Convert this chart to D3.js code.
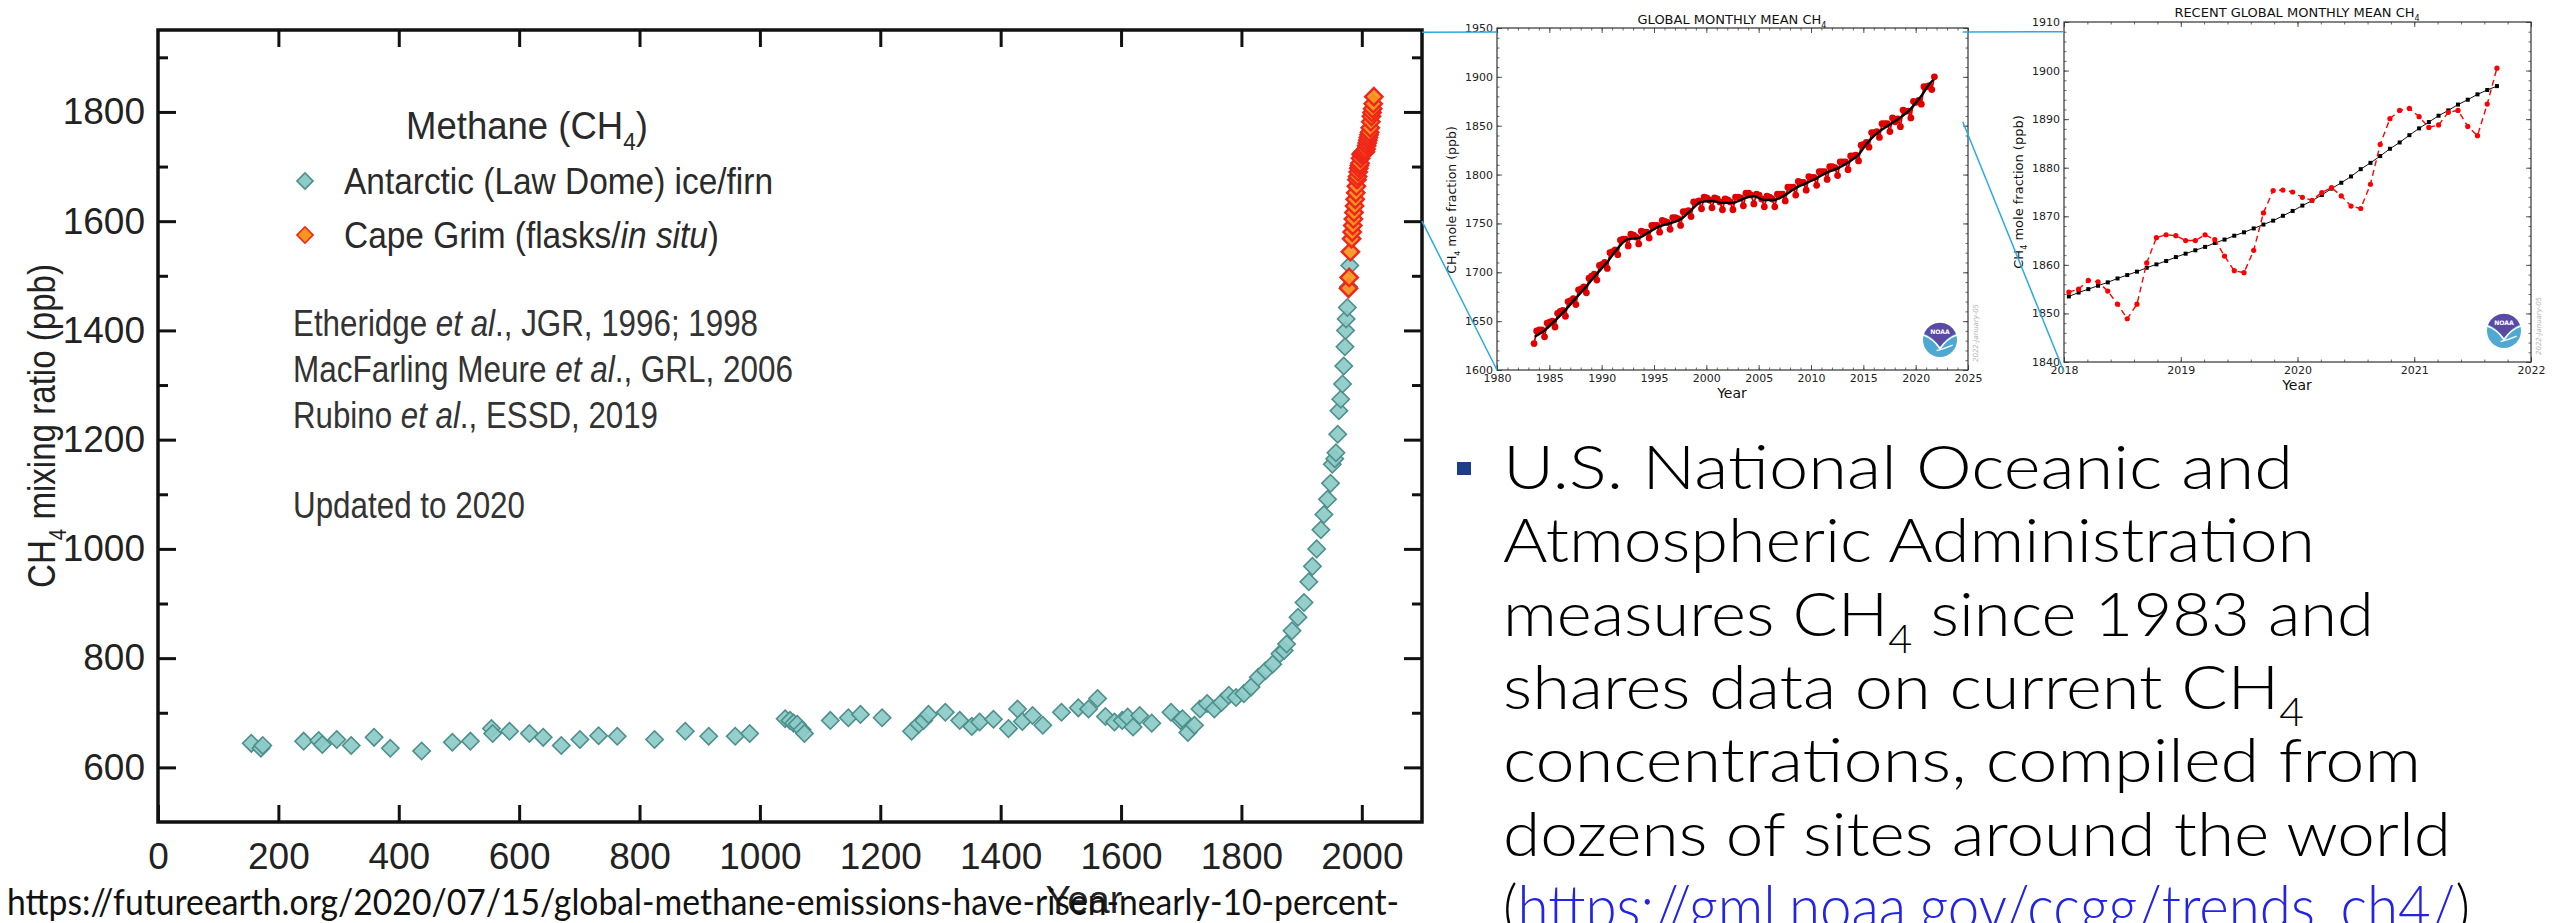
<!DOCTYPE html>
<html>
<head>
<meta charset="utf-8">
<script src="https://cdn.jsdelivr.net/npm/d3@7"></script>
<style>
  body { margin: 0; background: #fff; }
  svg { display: block; }
</style>
</head>
<body>
<svg id="chart"></svg>
<script>
//Canvas size
const width = 2552;
const height = 923;

//Main chart data: Law Dome ice/firn (year, ppb)
const lawDomeYears = [155, 171, 174, 242, 267, 273, 297, 321, 359, 386, 438, 489, 519, 554, 556, 584, 617, 640, 670, 701,
  732, 763, 825, 876, 915, 959, 983, 1042, 1050, 1056, 1062, 1070, 1074, 1117, 1147, 1167, 1203, 1252, 1264, 1272,
  1280, 1308, 1332, 1352, 1365, 1388, 1413, 1428, 1436, 1453, 1470, 1501, 1529, 1546, 1561, 1574, 1589, 1602, 1611, 1620,
  1631, 1651, 1683, 1699, 1702, 1711, 1722, 1731, 1743, 1755, 1767, 1779, 1791, 1804, 1816, 1828, 1840, 1852, 1864, 1871,
  1875, 1884, 1894, 1904, 1912, 1918, 1925, 1932, 1937, 1943, 1948, 1951, 1955, 1957, 1960, 1962, 1965, 1968, 1970, 1972,
  1973, 1974, 1976, 1978, 1980];
const lawDomeCH4 = [644, 635, 640, 648, 649, 642, 651, 640, 655, 635, 630, 646, 648, 671, 662, 666, 662, 655, 640, 651,
  658, 657, 651, 666, 657, 657, 662, 689, 686, 681, 679, 669, 662, 686, 691, 697, 691, 666, 679, 686,
  697, 701, 686, 675, 683, 688, 671, 707, 684, 695, 677, 701, 709, 707, 726, 693, 683, 686, 692, 674,
  695, 681, 701, 686, 689, 664, 677, 707, 717, 707, 719, 732, 728, 735, 747, 765, 777, 789, 808, 814,
  826, 850, 875, 902, 940, 968, 1000, 1035, 1063, 1091, 1120, 1155, 1165, 1176, 1210, 1253, 1274, 1302, 1335, 1370,
  1400, 1421, 1442, 1480, 1519];

//Main chart data: Cape Grim flasks / in situ
const capeGrimYears = [1978, 1979, 1981, 1983, 1984, 1985, 1986, 1987, 1988, 1989, 1990, 1991, 1992, 1993, 1994,
  1995, 1996, 1997, 1998, 1999, 2000, 2001, 2002, 2003, 2004, 2005, 2006, 2007, 2008, 2009, 2010, 2011, 2012,
  2013, 2014, 2015, 2016, 2017, 2018, 2019, 2020];
const capeGrimCH4 = [1477, 1497, 1544, 1568, 1580, 1592, 1604, 1616, 1628, 1640, 1652, 1664, 1676, 1682, 1690,
  1697, 1702, 1706, 1715, 1722, 1724, 1724, 1725, 1727, 1728, 1727, 1727, 1732, 1738, 1743, 1748, 1753, 1758,
  1763, 1771, 1782, 1792, 1799, 1806, 1815, 1828];

//Main chart ticks
const mainYearTicks = [0, 200, 400, 600, 800, 1000, 1200, 1400, 1600, 1800, 2000];
const mainCH4Ticks = [600, 800, 1000, 1200, 1400, 1600, 1800];
const mainCH4Minor = [700, 900, 1100, 1300, 1500, 1700, 1900];

//Global monthly mean inset: values sampled Jan / Apr / Jul / Oct
const globalYears = [1983, 1984, 1985, 1986, 1987, 1988, 1989, 1990, 1991, 1992, 1993, 1994, 1995, 1996, 1997,
  1998, 1999, 2000, 2001, 2002, 2003, 2004, 2005, 2006, 2007, 2008, 2009, 2010, 2011, 2012, 2013, 2014,
  2015, 2016, 2017, 2018, 2019, 2020, 2021];
const quarterOffsets = [0.04, 0.29, 0.54, 0.79];
const globalQuarterly = [
  [null, null, 1627, 1640], [1641, 1641, 1634, 1648], [1649, 1650, 1644, 1658], [1660, 1661, 1655, 1670],
  [1671, 1673, 1667, 1682], [1683, 1685, 1679, 1694], [1696, 1698, 1692, 1707], [1708, 1710, 1704, 1720],
  [1721, 1723, 1718, 1733], [1734, 1734, 1727, 1739], [1738, 1736, 1729, 1742], [1741, 1741, 1735, 1748],
  [1748, 1748, 1741, 1753], [1752, 1751, 1744, 1756], [1756, 1755, 1748, 1762], [1762, 1763, 1757, 1772],
  [1772, 1773, 1765, 1777], [1776, 1774, 1766, 1776], [1775, 1772, 1764, 1775], [1774, 1772, 1764, 1777],
  [1777, 1776, 1768, 1781], [1781, 1779, 1770, 1780], [1779, 1775, 1767, 1778], [1777, 1775, 1767, 1780],
  [1780, 1780, 1773, 1787], [1787, 1787, 1779, 1793], [1792, 1792, 1784, 1798], [1797, 1797, 1789, 1803],
  [1803, 1803, 1795, 1808], [1808, 1807, 1799, 1813], [1813, 1813, 1805, 1819], [1819, 1820, 1814, 1830],
  [1831, 1833, 1828, 1843], [1843, 1844, 1838, 1852], [1852, 1852, 1844, 1858], [1854, 1857, 1849, 1866],
  [1865, 1865, 1858, 1875], [1874, 1876, 1872, 1890], [1890, 1891, 1887, 1900]
];
const globalTrendYears = [1983.6, 1984.5, 1985.5, 1986.5, 1987.5, 1988.5, 1989.5, 1990.5, 1991.5, 1992.5,
  1993.5, 1994.5, 1995.5, 1996.5, 1997.5, 1998.5, 1999.5, 2000.5, 2001.5, 2002.5, 2003.5, 2004.5, 2005.5,
  2006.5, 2007.5, 2008.5, 2009.5, 2010.5, 2011.5, 2012.5, 2013.5, 2014.5, 2015.5, 2016.5, 2017.5, 2018.5,
  2019.5, 2020.5, 2021.5, 2021.7];
const globalTrendCH4 = [1634, 1640, 1650, 1661, 1673, 1685, 1698, 1710, 1724, 1734,
  1735, 1741, 1747, 1750, 1754, 1763, 1772, 1773, 1771, 1771, 1775, 1778, 1774,
  1774, 1779, 1786, 1791, 1796, 1802, 1806, 1812, 1820, 1834, 1844, 1851, 1858,
  1867, 1880, 1895, 1897];
const globalYearTicks = [1980, 1985, 1990, 1995, 2000, 2005, 2010, 2015, 2020, 2025];
const globalCH4Ticks = [1600, 1650, 1700, 1750, 1800, 1850, 1900, 1950];

//Recent global monthly mean inset: Jan 2018 .. Sep 2021
const recentStart = 2018;
const recentMonthly = [1854.4, 1855.0, 1856.8, 1856.5, 1854.6, 1851.9, 1848.9, 1851.9, 1860.4, 1865.6, 1866.2, 1866.0,
  1865.0, 1865.0, 1866.2, 1865.2, 1861.8, 1858.8, 1858.4, 1863.0, 1870.7, 1875.3, 1875.4, 1875.0,
  1873.9, 1873.3, 1874.9, 1875.9, 1874.2, 1872.1, 1871.6, 1876.6, 1884.8, 1890.1, 1891.8, 1892.2,
  1890.5, 1888.3, 1888.8, 1891.4, 1891.8, 1888.5, 1886.6, 1893.1, 1900.5];
const recentTrend = [1853.5, 1854.3, 1855.0, 1855.7, 1856.4, 1857.2, 1857.9, 1858.6, 1859.4, 1860.1, 1860.8, 1861.6,
  1862.3, 1863.0, 1863.7, 1864.5, 1865.2, 1866.0, 1866.7, 1867.5, 1868.3, 1869.1, 1870.1, 1871.1,
  1872.2, 1873.2, 1874.4, 1875.7, 1876.9, 1878.2, 1879.7, 1881.0, 1882.4, 1883.9, 1885.2, 1886.7,
  1888.1, 1889.4, 1890.7, 1891.8, 1893.0, 1894.0, 1895.1, 1896.0, 1896.8];
const recentYearTicks = [2018, 2019, 2020, 2021, 2022];
const recentCH4Ticks = [1840, 1850, 1860, 1870, 1880, 1890, 1900, 1910];

//Slide text
const sourceUrl = 'https://futureearth.org/2020/07/15/global-methane-emissions-have-risen-nearly-10-percent-';
const bulletLines = [
  [['U.S. National Oceanic and']],
  [['Atmospheric Administration']],
  [['measures CH'], ['4', 's'], [' since 1983 and']],
  [['shares data on current CH'], ['4', 's']],
  [['concentrations, compiled from']],
  [['dozens of sites around the world']],
  [['('], ['https://gml.noaa.gov/ccgg/trends_ch4/', 'link'], [')']]
];
const bulletWidths = [790, 812, 871, 801, 918, 948, 967];

const chartFont = '"Liberation Sans Narrow", "Arial Narrow", "Liberation Sans", sans-serif';
const plotFont = '"DejaVu Sans", sans-serif';
const slideFont = 'Lato, "Open Sans", sans-serif';

const svg = d3.select('#chart').attr('width', width).attr('height', height);
svg.append('rect').attr('width', width).attr('height', height).attr('fill', '#fff');

//Text with italic / subscript / link parts
function richText(parent, x, y, parts, opts) {
  const t = parent.append('text')
    .attr('x', x)
    .attr('y', y)
    .attr('font-family', opts.font)
    .attr('font-size', opts.size)
    .attr('fill', opts.fill || '#222')
    .attr('text-anchor', opts.anchor || 'start');
  if (opts.weight) t.attr('font-weight', opts.weight);
  if (opts.transform) t.attr('transform', opts.transform);
  if (opts.length) t.attr('textLength', opts.length).attr('lengthAdjust', 'spacingAndGlyphs');
  let afterSub = false;
  parts.forEach(p => {
    const s = t.append('tspan').text(p[0]);
    if (afterSub) { s.attr('dy', -opts.size * 0.28); afterSub = false; }
    if (p[1] === 'i') s.attr('font-style', 'italic');
    if (p[1] === 's') {
      s.attr('font-size', opts.size * 0.62).attr('dy', opts.size * 0.28);
      afterSub = true;
    }
    if (p[1] === 'link') s.attr('fill', '#2323e8').style('text-decoration', 'underline');
  });
  return t;
}

function cleanAxis(g, stroke, strokeWidth) {
  g.select('.domain').remove();
  g.attr('font-family', null).attr('font-size', null);
  g.selectAll('.tick line').attr('stroke', stroke).attr('stroke-width', strokeWidth);
}

//================ Main chart ================
const x = d3.scaleLinear().domain([0, 2100]).range([158, 1422]);
const y = d3.scaleLinear().domain([500, 1950]).range([822, 30]);
const main = svg.append('g');
const tickFontSize = 37;

//Bottom axis with labels
main.append('g')
  .attr('transform', `translate(0,${y(500)})`)
  .call(d3.axisBottom(x).tickValues(mainYearTicks).tickSize(-17).tickSizeOuter(0).tickPadding(21).tickFormat(d3.format('d')))
  .call(g => {
    cleanAxis(g, '#111', 3);
    g.selectAll('text').attr('font-family', chartFont).attr('font-size', tickFontSize).attr('fill', '#222');
  });

//Top axis ticks
main.append('g')
  .attr('transform', `translate(0,${y(1950)})`)
  .call(d3.axisTop(x).tickValues(mainYearTicks.slice(1)).tickSize(-17).tickSizeOuter(0).tickFormat(''))
  .call(g => cleanAxis(g, '#111', 3));

//Left axis with labels and minor ticks
main.append('g')
  .attr('transform', `translate(${x(0)},0)`)
  .call(d3.axisLeft(y).tickValues(mainCH4Ticks).tickSize(-18).tickSizeOuter(0).tickPadding(13).tickFormat(d3.format('d')))
  .call(g => {
    cleanAxis(g, '#111', 3);
    g.selectAll('text').attr('font-family', chartFont).attr('font-size', tickFontSize).attr('fill', '#222');
  });
main.append('g')
  .attr('transform', `translate(${x(0)},0)`)
  .call(d3.axisLeft(y).tickValues(mainCH4Minor).tickSize(-10).tickSizeOuter(0).tickFormat(''))
  .call(g => cleanAxis(g, '#111', 3));

//Right axis ticks
main.append('g')
  .attr('transform', `translate(${x(2100)},0)`)
  .call(d3.axisRight(y).tickValues(mainCH4Ticks).tickSize(-18).tickSizeOuter(0).tickFormat(''))
  .call(g => cleanAxis(g, '#111', 3));
main.append('g')
  .attr('transform', `translate(${x(2100)},0)`)
  .call(d3.axisRight(y).tickValues(mainCH4Minor).tickSize(-10).tickSizeOuter(0).tickFormat(''))
  .call(g => cleanAxis(g, '#111', 3));

//Frame
main.append('rect')
  .attr('x', x(0))
  .attr('y', y(1950))
  .attr('width', x(2100) - x(0))
  .attr('height', y(500) - y(1950))
  .attr('fill', 'none')
  .attr('stroke', '#111')
  .attr('stroke-width', 3.5);

const diamond = d3.symbol().type(d3.symbolSquare).size(150);
const lawDomeStyle = { fill: '#8ccbc8', stroke: '#4e8f8c', width: 1.6 };
const capeGrimStyle = { fill: '#f7961f', stroke: '#f0261a', width: 2.4 };

function drawDiamonds(parent, xs, vs, style) {
  parent.append('g')
    .selectAll('path')
    .data(xs.map((yr, i) => ({ yr, v: vs[i] })))
    .enter()
    .append('path')
    .attr('d', diamond)
    .attr('transform', d => `translate(${x(d.yr)},${y(d.v)}) rotate(45)`)
    .attr('fill', style.fill)
    .attr('fill-opacity', 0.92)
    .attr('stroke', style.stroke)
    .attr('stroke-width', style.width);
}
drawDiamonds(main, lawDomeYears, lawDomeCH4, lawDomeStyle);
drawDiamonds(main, capeGrimYears, capeGrimCH4, capeGrimStyle);

//Axis titles
richText(main, 0, 0, [['CH'], ['4', 's'], [' mixing ratio (ppb)']],
  { font: chartFont, size: 38, anchor: 'middle', length: 324, transform: 'translate(55,426) rotate(-90)' });
richText(main, 1084, 913, [['Year']], { font: chartFont, size: 38, anchor: 'middle' });

//Legend
richText(main, 406, 139, [['Methane (CH'], ['4', 's'], [')']], { font: chartFont, size: 38, fill: '#2a2a2a', length: 242 });
[[lawDomeStyle, 181, [['Antarctic (Law Dome) ice/firn']], 429],
 [capeGrimStyle, 235, [['Cape Grim (flasks/'], ['in situ', 'i'], [')']], 375]].forEach(item => {
  main.append('path')
    .attr('d', d3.symbol().type(d3.symbolSquare).size(130))
    .attr('transform', `translate(305,${item[1]}) rotate(45)`)
    .attr('fill', item[0].fill)
    .attr('stroke', item[0].stroke)
    .attr('stroke-width', 1.6);
  richText(main, 344, item[1] + 13, item[2], { font: chartFont, size: 37, fill: '#2a2a2a', length: item[3] });
});
richText(main, 293, 336, [['Etheridge '], ['et al', 'i'], ['., JGR, 1996; 1998']], { font: chartFont, size: 36, fill: '#333', length: 465 });
richText(main, 293, 382, [['MacFarling Meure '], ['et al', 'i'], ['., GRL, 2006']], { font: chartFont, size: 36, fill: '#333', length: 500 });
richText(main, 293, 428, [['Rubino '], ['et al', 'i'], ['., ESSD, 2019']], { font: chartFont, size: 36, fill: '#333', length: 365 });
richText(main, 293, 518, [['Updated to 2020']], { font: chartFont, size: 36, fill: '#333', length: 232 });

//================ Insets ================
function drawFrameAxes(g, xs, ys, xTicks, yTicks, xMinor, yMinor) {
  const [x0, x1] = xs.range();
  const [y0, y1] = ys.range();
  const axes = [
    [d3.axisBottom(xs), `translate(0,${y0})`, true],
    [d3.axisTop(xs), `translate(0,${y1})`, false],
    [d3.axisLeft(ys), `translate(${x0},0)`, true],
    [d3.axisRight(ys), `translate(${x1},0)`, false]
  ];
  axes.forEach((a, k) => {
    const major = k < 2 ? xTicks : yTicks;
    const minor = k < 2 ? xMinor : yMinor;
    g.append('g').attr('transform', a[1])
      .call(a[0].tickValues(minor).tickSize(-2.5).tickSizeOuter(0).tickFormat(''))
      .call(s => cleanAxis(s, '#444', 0.8));
    g.append('g').attr('transform', a[1])
      .call(a[0].tickValues(major).tickSize(-5).tickSizeOuter(0).tickPadding(4).tickFormat(a[2] ? d3.format('d') : ''))
      .call(s => {
        cleanAxis(s, '#444', 0.9);
        s.selectAll('text').attr('font-family', plotFont).attr('font-size', 11).attr('fill', '#222');
      });
  });
  g.append('rect')
    .attr('x', x0).attr('y', y1)
    .attr('width', x1 - x0).attr('height', y0 - y1)
    .attr('fill', 'none').attr('stroke', '#333').attr('stroke-width', 1.2);
}

function noaaLogo(g, cx, cy, r) {
  const logo = g.append('g').attr('transform', `translate(${cx},${cy})`);
  logo.append('circle').attr('r', r).attr('fill', '#4fa8d1');
  logo.append('path')
    .attr('d', `M${-r * 0.93},${-r * 0.38} A${r},${r} 0 0 1 ${r * 0.93},${-r * 0.38} Q${r * 0.4},${-r * 0.15} 0,${r * 0.42} Q${-r * 0.4},${-r * 0.15} ${-r * 0.93},${-r * 0.38} Z`)
    .attr('fill', '#5b4aa5');
  logo.append('path')
    .attr('d', `M${-r * 0.98},${-r * 0.3} Q${-r * 0.4},${-r * 0.1} 0,${r * 0.5} Q${r * 0.4},${-r * 0.1} ${r * 0.98},${-r * 0.3}`)
    .attr('fill', 'none').attr('stroke', '#fff').attr('stroke-width', 1.6);
  logo.append('path')
    .attr('d', `M${-r * 0.2},${r * 0.62} Q${r * 0.3},${r * 0.5} ${r * 0.75},${r * 0.3}`)
    .attr('fill', 'none').attr('stroke', '#fff').attr('stroke-width', 1.3);
  logo.append('text')
    .attr('y', -r * 0.35)
    .attr('text-anchor', 'middle')
    .attr('font-family', plotFont)
    .attr('font-size', r * 0.36)
    .attr('font-weight', 'bold')
    .attr('fill', '#fff')
    .text('NOAA');
}

function dateStamp(g, xPos, yPos) {
  g.append('text')
    .attr('transform', `translate(${xPos},${yPos}) rotate(-90)`)
    .attr('font-family', plotFont)
    .attr('font-size', 7)
    .attr('font-style', 'italic')
    .attr('fill', '#b3b3b3')
    .text('2022-January-05');
}

//Inset 1: global monthly mean
const gx = d3.scaleLinear().domain([1980, 2025]).range([1497, 1968]);
const gy = d3.scaleLinear().domain([1600, 1950]).range([370, 28]);
const inset1 = svg.append('g');
drawFrameAxes(inset1, gx, gy, globalYearTicks, globalCH4Ticks, gx.ticks(45), gy.ticks(35));

const globalRed = [];
globalYears.forEach((yr, i) => {
  globalQuarterly[i].forEach((v, q) => {
    if (v != null) globalRed.push({ t: yr + quarterOffsets[q], v });
  });
});
inset1.append('path')
  .datum(globalRed)
  .attr('d', d3.line().x(d => gx(d.t)).y(d => gy(d.v)))
  .attr('fill', 'none').attr('stroke', '#e00000').attr('stroke-width', 1.8);
inset1.append('g')
  .selectAll('circle')
  .data(globalRed)
  .enter()
  .append('circle')
  .attr('cx', d => gx(d.t))
  .attr('cy', d => gy(d.v))
  .attr('r', 3.4)
  .attr('fill', '#e00000');
inset1.append('path')
  .datum(globalTrendYears.map((t, i) => ({ t, v: globalTrendCH4[i] })))
  .attr('d', d3.line().x(d => gx(d.t)).y(d => gy(d.v)).curve(d3.curveMonotoneX))
  .attr('fill', 'none').attr('stroke', '#000').attr('stroke-width', 2.4);

richText(inset1, 1732, 24, [['GLOBAL MONTHLY MEAN CH'], ['4', 's']], { font: plotFont, size: 13, anchor: 'middle', fill: '#111' });
richText(inset1, 0, 0, [['CH'], ['4', 's'], ['  mole fraction (ppb)']],
  { font: plotFont, size: 12.5, anchor: 'middle', transform: 'translate(1456,200) rotate(-90)', fill: '#111' });
richText(inset1, 1732, 398, [['Year']], { font: plotFont, size: 14, anchor: 'middle', fill: '#111' });
noaaLogo(inset1, 1940, 340, 17);
dateStamp(inset1, 1978, 362);

//Inset 2: recent global monthly mean
const rx = d3.scaleLinear().domain([2018, 2022]).range([2064, 2531]);
const ry = d3.scaleLinear().domain([1840, 1910]).range([362, 22]);
const inset2 = svg.append('g');
drawFrameAxes(inset2, rx, ry, recentYearTicks, recentCH4Ticks, rx.ticks(16), ry.ticks(35));

const monthTime = i => recentStart + (i + 0.5) / 12;
inset2.append('path')
  .datum(recentTrend)
  .attr('d', d3.line().x((d, i) => rx(monthTime(i))).y(d => ry(d)))
  .attr('fill', 'none').attr('stroke', '#111').attr('stroke-width', 1);
inset2.append('g')
  .selectAll('rect')
  .data(recentTrend)
  .enter()
  .append('rect')
  .attr('x', (d, i) => rx(monthTime(i)) - 2)
  .attr('y', d => ry(d) - 2)
  .attr('width', 4)
  .attr('height', 4)
  .attr('fill', '#000');
inset2.append('path')
  .datum(recentMonthly)
  .attr('d', d3.line().x((d, i) => rx(monthTime(i))).y(d => ry(d)))
  .attr('fill', 'none').attr('stroke', '#f00').attr('stroke-width', 1.4).attr('stroke-dasharray', '6,4');
inset2.append('g')
  .selectAll('circle')
  .data(recentMonthly)
  .enter()
  .append('circle')
  .attr('cx', (d, i) => rx(monthTime(i)))
  .attr('cy', d => ry(d))
  .attr('r', 2.6)
  .attr('fill', '#f00');

richText(inset2, 2297, 17, [['RECENT GLOBAL MONTHLY MEAN CH'], ['4', 's']], { font: plotFont, size: 13, anchor: 'middle', fill: '#111' });
richText(inset2, 0, 0, [['CH'], ['4', 's'], ['  mole fraction (ppb)']],
  { font: plotFont, size: 13, anchor: 'middle', transform: 'translate(2023,192) rotate(-90)', fill: '#111' });
richText(inset2, 2297, 390, [['Year']], { font: plotFont, size: 14, anchor: 'middle', fill: '#111' });
noaaLogo(inset2, 2504, 331, 17);
dateStamp(inset2, 2541, 355);

//================ Zoom connectors ================
const connectors = [
  [[x(2100), y(1946)], [gx(1980), gy(1946)]],
  [[x(2100), y(1600)], [gx(1980), gy(1600)]],
  [[gx(2024.5), gy(1946)], [rx(2018), ry(1908)]],
  [[gx(2024.5), gy(1854)], [rx(2018), ry(1838)]]
];
svg.append('g')
  .selectAll('line')
  .data(connectors)
  .enter()
  .append('line')
  .attr('x1', d => d[0][0]).attr('y1', d => d[0][1])
  .attr('x2', d => d[1][0]).attr('y2', d => d[1][1])
  .attr('stroke', '#2aaae2')
  .attr('stroke-width', 1.5);

//================ Slide text ================
richText(svg, 7, 915, [[sourceUrl]], { font: slideFont, size: 37, fill: '#111', length: 1392, weight: 400 });

svg.append('rect')
  .attr('x', 1457).attr('y', 462)
  .attr('width', 14).attr('height', 13)
  .attr('fill', '#1f3c88');
bulletLines.forEach((parts, i) => {
  richText(svg, 1503, 489 + i * 73.3, parts, { font: slideFont, size: 62, fill: '#000', length: bulletWidths[i], weight: 300 });
});
</script>
</body>
</html>
